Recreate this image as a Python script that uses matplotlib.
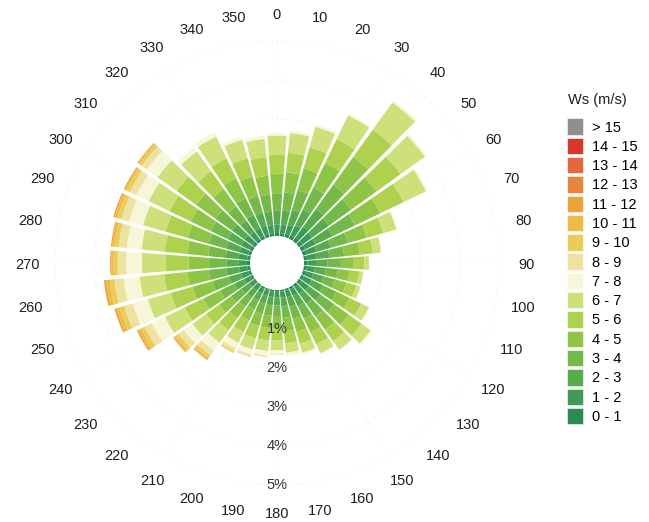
import numpy as np
import matplotlib
matplotlib.use('Agg')
import matplotlib.pyplot as plt
import matplotlib.transforms as mtransforms
from matplotlib.patches import Patch

plt.rcParams['font.family'] = ['Liberation Sans', 'DejaVu Sans']

DIRECTIONS = list(range(0, 360, 10))
SPEED_CLASSES = ['0 - 1', '1 - 2', '2 - 3', '3 - 4', '4 - 5', '5 - 6', '6 - 7', '7 - 8',
                 '8 - 9', '9 - 10', '10 - 11', '11 - 12', '12 - 13', '13 - 14', '14 - 15', '> 15']
COLORS = ['#2b8a56', '#3e9b55', '#58ab4f', '#74b94a', '#8fc546', '#aed24e', '#cde07a', '#f8f6d8',
          '#eee2a0', '#eccc58', '#eebb45', '#eba33c', '#e8853f', '#e3693c', '#d8372c', '#8f8f8f']
PCT_LABELS = [1, 2, 3, 4, 5]

# frequency (%) per direction, classes 0-1 ... 11-12 (nothing above 12 m/s)
FREQ = [
    [0.08, 0.22, 0.35, 0.45, 0.50, 0.48, 0.50, 0.06],                    # 0
    [0.08, 0.22, 0.36, 0.47, 0.52, 0.50, 0.51, 0.06],                    # 10
    [0.09, 0.24, 0.40, 0.52, 0.58, 0.56, 0.55, 0.06],                    # 20
    [0.10, 0.28, 0.46, 0.62, 0.70, 0.68, 0.67, 0.05],                    # 30
    [0.12, 0.34, 0.56, 0.76, 0.88, 0.86, 0.86, 0.06],                    # 40
    [0.11, 0.32, 0.52, 0.70, 0.80, 0.76, 0.77, 0.05],                    # 50
    [0.11, 0.30, 0.48, 0.64, 0.72, 0.66, 0.64, 0.04],                    # 60
    [0.10, 0.26, 0.38, 0.46, 0.50, 0.44, 0.35, 0.02],                    # 70
    [0.09, 0.24, 0.33, 0.38, 0.40, 0.34, 0.21, 0.01],                    # 80
    [0.09, 0.22, 0.30, 0.34, 0.33, 0.27, 0.12, 0.02],                    # 90
    [0.08, 0.21, 0.28, 0.31, 0.30, 0.25, 0.10, 0.02],                    # 100
    [0.08, 0.20, 0.27, 0.31, 0.30, 0.26, 0.11, 0.02],                    # 110
    [0.08, 0.22, 0.32, 0.38, 0.38, 0.33, 0.22, 0.02],                    # 120
    [0.08, 0.24, 0.36, 0.44, 0.46, 0.40, 0.29, 0.03],                    # 130
    [0.07, 0.21, 0.32, 0.40, 0.42, 0.36, 0.27, 0.03],                    # 140
    [0.06, 0.19, 0.29, 0.36, 0.39, 0.34, 0.25, 0.04],                    # 150
    [0.05, 0.17, 0.26, 0.32, 0.35, 0.31, 0.24, 0.04],                    # 160
    [0.05, 0.15, 0.23, 0.30, 0.34, 0.31, 0.24, 0.08],                    # 170
    [0.05, 0.14, 0.21, 0.27, 0.32, 0.31, 0.25, 0.10, 0.02],              # 180
    [0.05, 0.14, 0.21, 0.27, 0.32, 0.32, 0.27, 0.12, 0.04],              # 190
    [0.05, 0.14, 0.21, 0.27, 0.32, 0.33, 0.29, 0.14, 0.07],              # 200
    [0.05, 0.13, 0.20, 0.26, 0.31, 0.33, 0.30, 0.16, 0.09, 0.04],        # 210
    [0.05, 0.14, 0.22, 0.29, 0.35, 0.38, 0.40, 0.25, 0.15, 0.08, 0.05, 0.02],  # 220
    [0.05, 0.15, 0.24, 0.32, 0.38, 0.41, 0.43, 0.27, 0.17, 0.09, 0.06, 0.02],  # 230
    [0.06, 0.18, 0.29, 0.40, 0.48, 0.53, 0.56, 0.37, 0.21, 0.10, 0.08, 0.04],  # 240
    [0.07, 0.20, 0.32, 0.44, 0.53, 0.58, 0.61, 0.40, 0.23, 0.12, 0.09, 0.05],  # 250
    [0.07, 0.21, 0.33, 0.46, 0.55, 0.60, 0.63, 0.41, 0.24, 0.12, 0.10, 0.05],  # 260
    [0.08, 0.21, 0.32, 0.44, 0.53, 0.58, 0.62, 0.40, 0.22, 0.10, 0.06, 0.03],  # 270
    [0.08, 0.22, 0.33, 0.45, 0.54, 0.58, 0.60, 0.38, 0.21, 0.10, 0.07, 0.03],  # 280
    [0.08, 0.23, 0.35, 0.47, 0.56, 0.59, 0.60, 0.37, 0.21, 0.10, 0.07, 0.04],  # 290
    [0.09, 0.24, 0.37, 0.49, 0.58, 0.60, 0.59, 0.35, 0.19, 0.09, 0.05, 0.03],  # 300
    [0.09, 0.25, 0.39, 0.52, 0.61, 0.62, 0.60, 0.34, 0.16, 0.08, 0.04, 0.02],  # 310
    [0.08, 0.22, 0.35, 0.46, 0.54, 0.56, 0.62, 0.12],                    # 320
    [0.08, 0.23, 0.37, 0.48, 0.56, 0.57, 0.62, 0.12],                    # 330
    [0.08, 0.22, 0.35, 0.45, 0.51, 0.49, 0.49, 0.08],                    # 340
    [0.08, 0.21, 0.34, 0.44, 0.49, 0.48, 0.47, 0.08],                    # 350
]

freq = np.zeros((len(DIRECTIONS), len(SPEED_CLASSES)))
for i, row in enumerate(FREQ):
    freq[i, :len(row)] = row

fig = plt.figure(figsize=(6.49, 5.22), dpi=100)
ax = fig.add_axes([0.0308, 0.0038, 0.792, 0.9847], projection='polar')
ax.set_theta_zero_location('N')
ax.set_theta_direction(-1)
ax.set_rorigin(-0.69)
ax.set_ylim(0, 5.9)
ax.set_axis_off()

theta = np.deg2rad(DIRECTIONS)
width = np.deg2rad(8.6)
bottom = np.zeros(len(DIRECTIONS))
for k in range(len(SPEED_CLASSES)):
    ax.bar(theta, freq[:, k], width=width, bottom=bottom, color=COLORS[k],
           linewidth=0, zorder=2)
    bottom += freq[:, k]

# very faint dotted grid
circ = np.linspace(0, 2 * np.pi, 400)
for p in PCT_LABELS:
    ax.plot(circ, np.full_like(circ, p), ls=(0, (1, 3)), color='#e6e6e6', lw=0.6, zorder=1)
for d in range(0, 360, 30):
    ax.plot([np.deg2rad(d)] * 2, [0, 5], ls=(0, (1, 3)), color='#ececec', lw=0.6, zorder=1)

lab_tr = mtransforms.offset_copy(ax.transData, fig=fig, x=0, y=-1.5, units='dots')
for d in DIRECTIONS:
    ax.text(np.deg2rad(d), 5.72, str(d), ha='center', va='center', transform=lab_tr,
            fontsize=10.5, color='#1e1e1e')
for p in PCT_LABELS:
    ax.text(np.pi, p, f'{p}%', ha='center', va='center', fontsize=10.5,
            color='#333333', zorder=5)

handles = [Patch(facecolor=c, edgecolor='white', linewidth=0.4) for c in COLORS[::-1]]
fig.text(0.875, 0.8084, 'Ws (m/s)', ha='left', va='center', fontsize=10.5, color='#1e1e1e')
fig.legend(handles, SPEED_CLASSES[::-1], loc='upper left', bbox_to_anchor=(0.874, 0.773),
           frameon=False, fontsize=10.5, handlelength=1.1, handleheight=1.35,
           labelspacing=0.2, handletextpad=0.6, borderpad=0, borderaxespad=0)

fig.savefig('out.png', dpi=100)
